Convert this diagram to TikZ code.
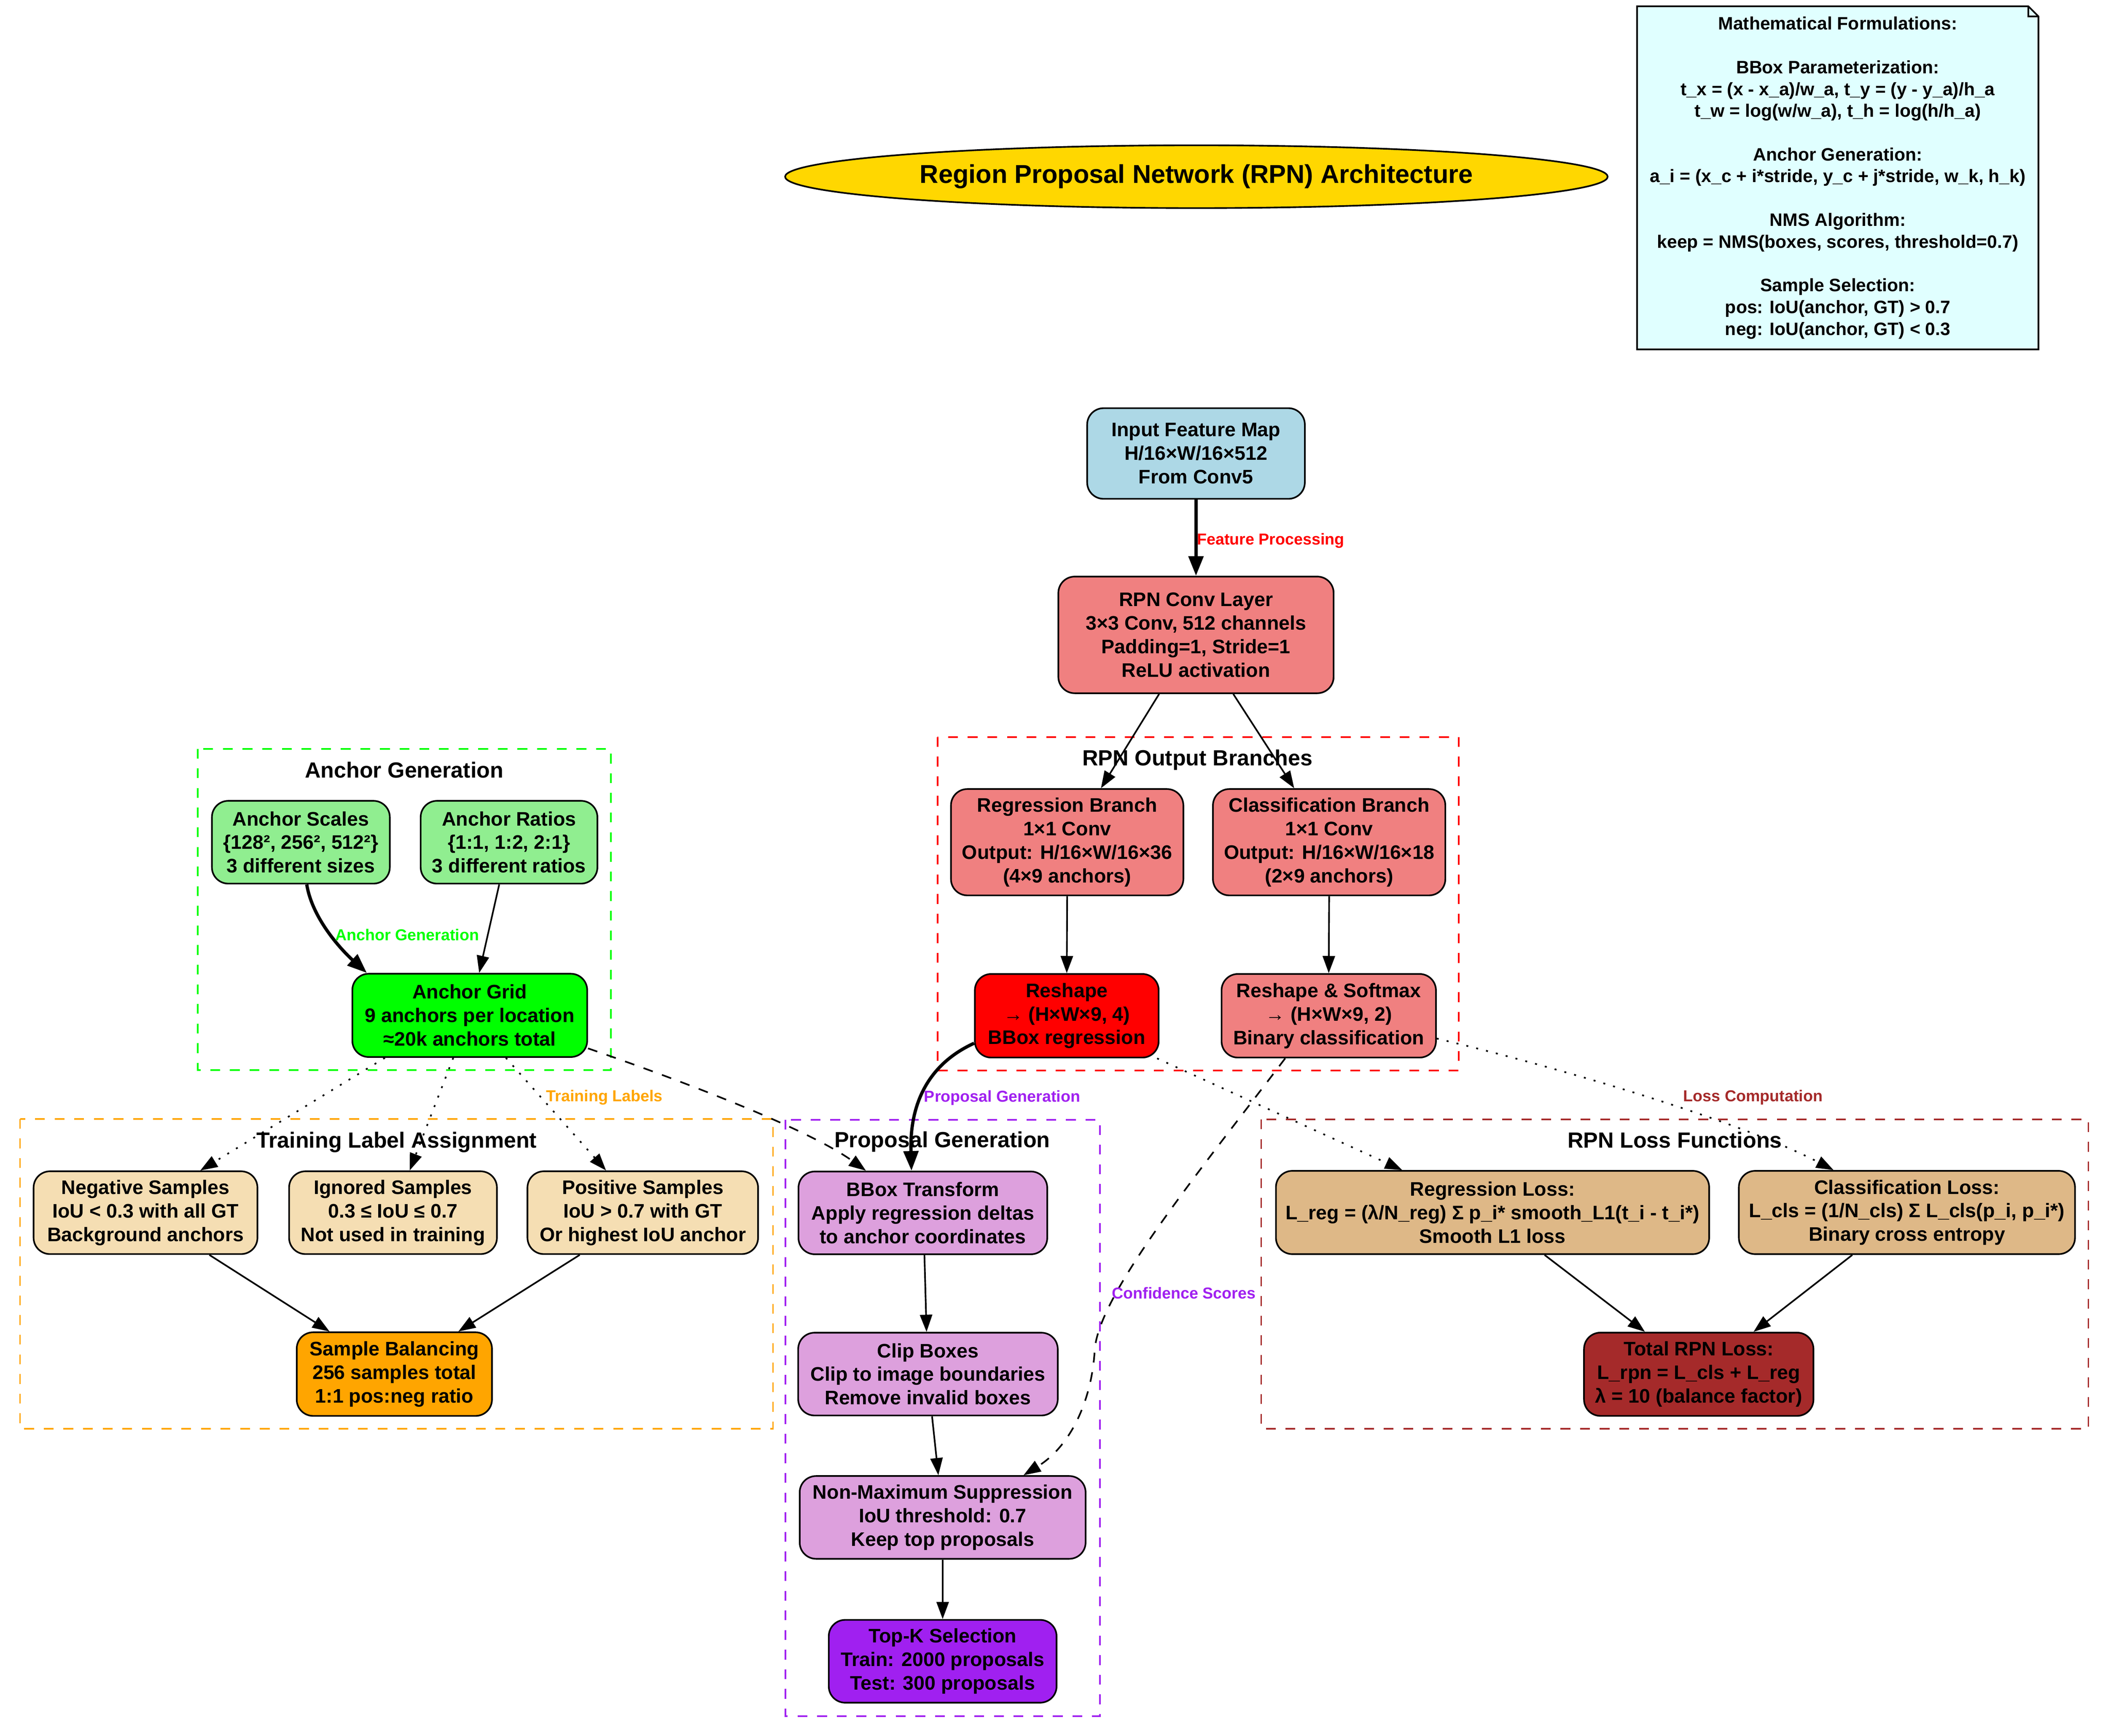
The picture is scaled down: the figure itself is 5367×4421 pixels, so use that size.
\documentclass[tikz,border=0pt]{standalone}
\usepackage{fontspec}
\setmainfont{Liberation Sans}
\usetikzlibrary{arrows.meta,shapes.geometric,calc}

\definecolor{cLightBlue}{HTML}{ADD8E6}
\definecolor{cLightCoral}{HTML}{F08080}
\definecolor{cRed}{HTML}{FF0000}
\definecolor{cLightGreen}{HTML}{90EE90}
\definecolor{cLime}{HTML}{00FF00}
\definecolor{cWheat}{HTML}{F5DEB3}
\definecolor{cOrange}{HTML}{FFA500}
\definecolor{cPlum}{HTML}{DDA0DD}
\definecolor{cPurple}{HTML}{A020F0}
\definecolor{cBurly}{HTML}{DEB887}
\definecolor{cBrown}{HTML}{A52A2A}
\definecolor{cGold}{HTML}{FFD700}
\definecolor{cCyan}{HTML}{E0FFFF}

\begin{document}
\begin{tikzpicture}[x=0.24pt,y=-0.24pt,
  box/.style={draw=black, line width=1pt, rounded corners=10pt, align=center, inner sep=0pt,
              font=\fontsize{12}{14.4}\selectfont\bfseries},
  cluster/.style={line width=1pt, dash pattern=on 6pt off 6pt},
  clabel/.style={anchor=base, inner sep=0pt, font=\fontsize{13.4}{16}\selectfont\bfseries},
  elabel/.style={anchor=base west, inner sep=0pt, font=\fontsize{9.7}{11.6}\selectfont\bfseries},
  arr/.style={line width=1pt, -{Triangle[length=10.5pt,width=7.5pt]}},
  thickarr/.style={line width=2pt, -{Triangle[length=12pt,width=9pt]}},
  dashedarr/.style={arr, dash pattern=on 6pt off 6pt},
  dottedarr/.style={arr, dash pattern=on 1.2pt off 5pt},
]
\useasboundingbox (0,0) rectangle (5367,4421);
\fill[white] (0,0) rectangle (5367,4421);

% clusters
\draw[cluster, draw=cLime] (503.5,1907) rectangle (1555,2725);
\draw[cluster, draw=cRed] (2387.5,1877) rectangle (3713.6,2726.5);
\draw[cluster, draw=cOrange] (51,2849.5) rectangle (1968,3639);
\draw[cluster, draw=cPurple] (2000,2851.6) rectangle (2800,4371);
\draw[cluster, draw=cBrown] (3211,2851) rectangle (5317,3639);
\node[clabel] (lgreen) at (1029,1981) {Anchor Generation};
\node[clabel] (lred) at (3049,1950) {RPN Output Branches};
\node[clabel] (lorange) at (1010,2923) {Training Label Assignment};
\node[clabel] (lpurple) at (2399,2922) {Proposal Generation};
\node[clabel] (lbrown) at (4264,2923) {RPN Loss Functions};

% title
\node[ellipse, draw=black, line width=1pt, fill=cGold, minimum width=502.6pt, minimum height=38.4pt,
      inner sep=0pt, font=\fontsize{15.8}{19}\selectfont\bfseries] (title) at (3046,450)
      {Region Proposal Network (RPN) Architecture};

% note
\fill[cCyan] (4168,16) -- (5164,16) -- (5190,42) -- (5190,890) -- (4168,890) -- cycle;
\draw[line width=1pt] (4168,16) -- (5164,16) -- (5190,42) -- (5190,890) -- (4168,890) -- cycle;
\draw[line width=1pt] (5164,16) -- (5164,42) -- (5190,42);
\node[font=\fontsize{11}{13.33}\selectfont\bfseries, align=center, inner sep=0pt] (note) at (4679,453)
 {Mathematical Formulations:\\[13.33pt]
  BBox Parameterization:\\
  t\_x = (x - x\_a)/w\_a, t\_y = (y - y\_a)/h\_a\\
  t\_w = log(w/w\_a), t\_h = log(h/h\_a)\\[13.33pt]
  Anchor Generation:\\
  a\_i = (x\_c + i*stride, y\_c + j*stride, w\_k, h\_k)\\[13.33pt]
  NMS Algorithm:\\
  keep = NMS(boxes, scores, threshold=0.7)\\[13.33pt]
  Sample Selection:\\
  pos: IoU(anchor, GT) > 0.7\\
  neg: IoU(anchor, GT) < 0.3};

% main nodes
\node[box, fill=cLightBlue, minimum width=133pt, minimum height=55.4pt] (input) at (3045,1155)
  {Input Feature Map\\H/16×W/16×512\\From Conv5};
\node[box, fill=cLightCoral, minimum width=168.2pt, minimum height=71.3pt] (conv) at (3045,1617)
  {RPN Conv Layer\\3×3 Conv, 512 channels\\Padding=1, Stride=1\\ReLU activation};
\node[box, fill=cLightCoral, minimum width=142pt, minimum height=65pt] (regbr) at (2717,2145)
  {Regression Branch\\1×1 Conv\\Output: H/16×W/16×36\\(4×9 anchors)};
\node[box, fill=cLightCoral, minimum width=142pt, minimum height=65pt] (clsbr) at (3384,2145)
  {Classification Branch\\1×1 Conv\\Output: H/16×W/16×18\\(2×9 anchors)};
\node[box, fill=cRed, minimum width=112.3pt, minimum height=51.1pt] (reshape) at (2716,2587)
  {Reshape\\→ (H×W×9, 4)\\BBox regression};
\node[box, fill=cLightCoral, minimum width=131pt, minimum height=51.1pt] (reshsoft) at (3383,2587)
  {Reshape \& Softmax\\→ (H×W×9, 2)\\Binary classification};

\node[box, fill=cLightGreen, minimum width=108.7pt, minimum height=50.6pt] (scales) at (766,2145)
  {Anchor Scales\\\{128², 256², 512²\}\\3 different sizes};
\node[box, fill=cLightGreen, minimum width=108pt, minimum height=50.6pt] (ratios) at (1296,2145)
  {Anchor Ratios\\\{1:1, 1:2, 2:1\}\\3 different ratios};
\node[box, fill=cLime, minimum width=143.5pt, minimum height=50.9pt] (grid) at (1196,2586)
  {Anchor Grid\\9 anchors per location\\≈20k anchors total};

\node[box, fill=cWheat, minimum width=136.8pt, minimum height=50.6pt] (neg) at (370.5,3088.5)
  {Negative Samples\\IoU < 0.3 with all GT\\Background anchors};
\node[box, fill=cWheat, minimum width=127pt, minimum height=50.6pt] (ign) at (1000.6,3088.5)
  {Ignored Samples\\0.3 ≤ IoU ≤ 0.7\\Not used in training};
\node[box, fill=cWheat, minimum width=140.9pt, minimum height=50.6pt] (pos) at (1636.5,3088.5)
  {Positive Samples\\IoU > 0.7 with GT\\Or highest IoU anchor};
\node[box, fill=cOrange, minimum width=119.3pt, minimum height=51.1pt] (bal) at (1004,3499.6)
  {Sample Balancing\\256 samples total\\1:1 pos:neg ratio};

\node[box, fill=cPlum, minimum width=152pt, minimum height=50.6pt] (bbox) at (2349.6,3089)
  {BBox Transform\\Apply regression deltas\\to anchor coordinates};
\node[box, fill=cPlum, minimum width=158.6pt, minimum height=50.6pt] (clip) at (2362.6,3499.6)
  {Clip Boxes\\Clip to image boundaries\\Remove invalid boxes};
\node[box, fill=cPlum, minimum width=174.7pt, minimum height=50.6pt] (nms) at (2400,3864.6)
  {Non-Maximum Suppression\\IoU threshold: 0.7\\Keep top proposals};
\node[box, fill=cPurple, minimum width=139.2pt, minimum height=50.6pt] (topk) at (2400,4231)
  {Top-K Selection\\Train: 2000 proposals\\Test: 300 proposals};

\node[box, fill=cBurly, minimum width=264.7pt, minimum height=50.9pt] (regloss) at (3800,3088)
  {Regression Loss:\\L\_reg = (λ/N\_reg) Σ p\_i* smooth\_L1(t\_i - t\_i*)\\Smooth L1 loss};
\node[box, fill=cBurly, minimum width=205.4pt, minimum height=50.9pt] (clsloss) at (4855,3088)
  {Classification Loss:\\L\_cls = (1/N\_cls) Σ L\_cls(p\_i, p\_i*)\\Binary cross entropy};
\node[box, fill=cBrown, minimum width=140.2pt, minimum height=50.9pt] (total) at (4325,3500)
  {Total RPN Loss:\\L\_rpn = L\_cls + L\_reg\\λ = 10 (balance factor)};

% edges
\draw[thickarr] (input.south) -- (conv.north);
\node[elabel, text=cRed] (lfeat) at (3047,1387) {Feature Processing};
\draw[arr] ($(conv.south)+(-94,0)$) -- ($(regbr.north)+(86,0)$);
\draw[arr] ($(conv.south)+(95,0)$) -- ($(clsbr.north)+(-89,0)$);
\draw[arr] (regbr.south) -- (reshape.north);
\draw[arr] (clsbr.south) -- (reshsoft.north);

\draw[thickarr] ($(scales.south)+(15,0)$) .. controls (795,2340) and (870,2420) .. ($(grid.north west)+(39,0)$);
\node[elabel, text=cLime] (lanchor) at (853,2395) {Anchor Generation};
\draw[arr] ($(ratios.south)+(-25,0)$) -- ($(grid.north)+(24,0)$);

\draw[dottedarr] ($(grid.south)+(-216,0)$) -- ($(neg.north)+(139.5,0)$);
\draw[dottedarr] ($(grid.south)+(-42,0)$) -- ($(ign.north)+(42.4,0)$);
\draw[dottedarr] ($(grid.south)+(92,0)$) -- ($(pos.north)+(-93.5,0)$);
\node[elabel, text=cOrange] (ltrain) at (1390,2805) {Training Labels};
\draw[arr] ($(neg.south)+(162.5,0)$) -- ($(bal.north)+(-165,0)$);
\draw[arr] ($(pos.south)+(-160.5,0)$) -- ($(bal.north)+(163,0)$);

\draw[thickarr] ($(reshape.west)+(0,70)$) .. controls (2320,2730) and (2318,2880) .. ($(bbox.north)+(-29,0)$);
\node[elabel, text=cPurple] (lprop) at (2352,2806) {Proposal Generation};
\draw[dashedarr] ($(grid.east)+(0,84)$) .. controls (1700,2740) and (2050,2870) .. ($(bbox.north)+(-145,0)$);
\draw[arr] ($(bbox.south)+(4,0)$) -- ($(clip.north)+(-3.6,0)$);
\draw[arr] ($(clip.south)+(10.4,0)$) -- ($(nms.north)+(-11,0)$);
\draw[arr] (nms.south) -- (topk.north);

\coordinate (csway) at (2787,3440);
\draw[dashedarr] ($(reshsoft.south)+(-111,0)$) .. controls (3042,2998) and (2795,3300) .. (csway)
  .. controls (2780,3560) and (2730,3680) .. ($(nms.north)+(206,0)$);
\node[elabel, text=cPurple] (lconf) at (2830,3308) {Confidence Scores};

\draw[dottedarr] ($(reshape.south)+(230,0)$) -- ($(regloss.north)+(-230,0)$);
\draw[dottedarr] ($(reshsoft.east)+(0,58)$) .. controls (3958,2716) and (4418,2850) .. ($(clsloss.north)+(-187,0)$);
\node[elabel, text=cBrown] (lloss) at (4285,2805) {Loss Computation};
\draw[arr] ($(regloss.south)+(132.5,0)$) -- ($(total.north)+(-137,0)$);
\draw[arr] ($(clsloss.south)+(-139,0)$) -- ($(total.north)+(139.5,0)$);
\end{tikzpicture}
\end{document}
